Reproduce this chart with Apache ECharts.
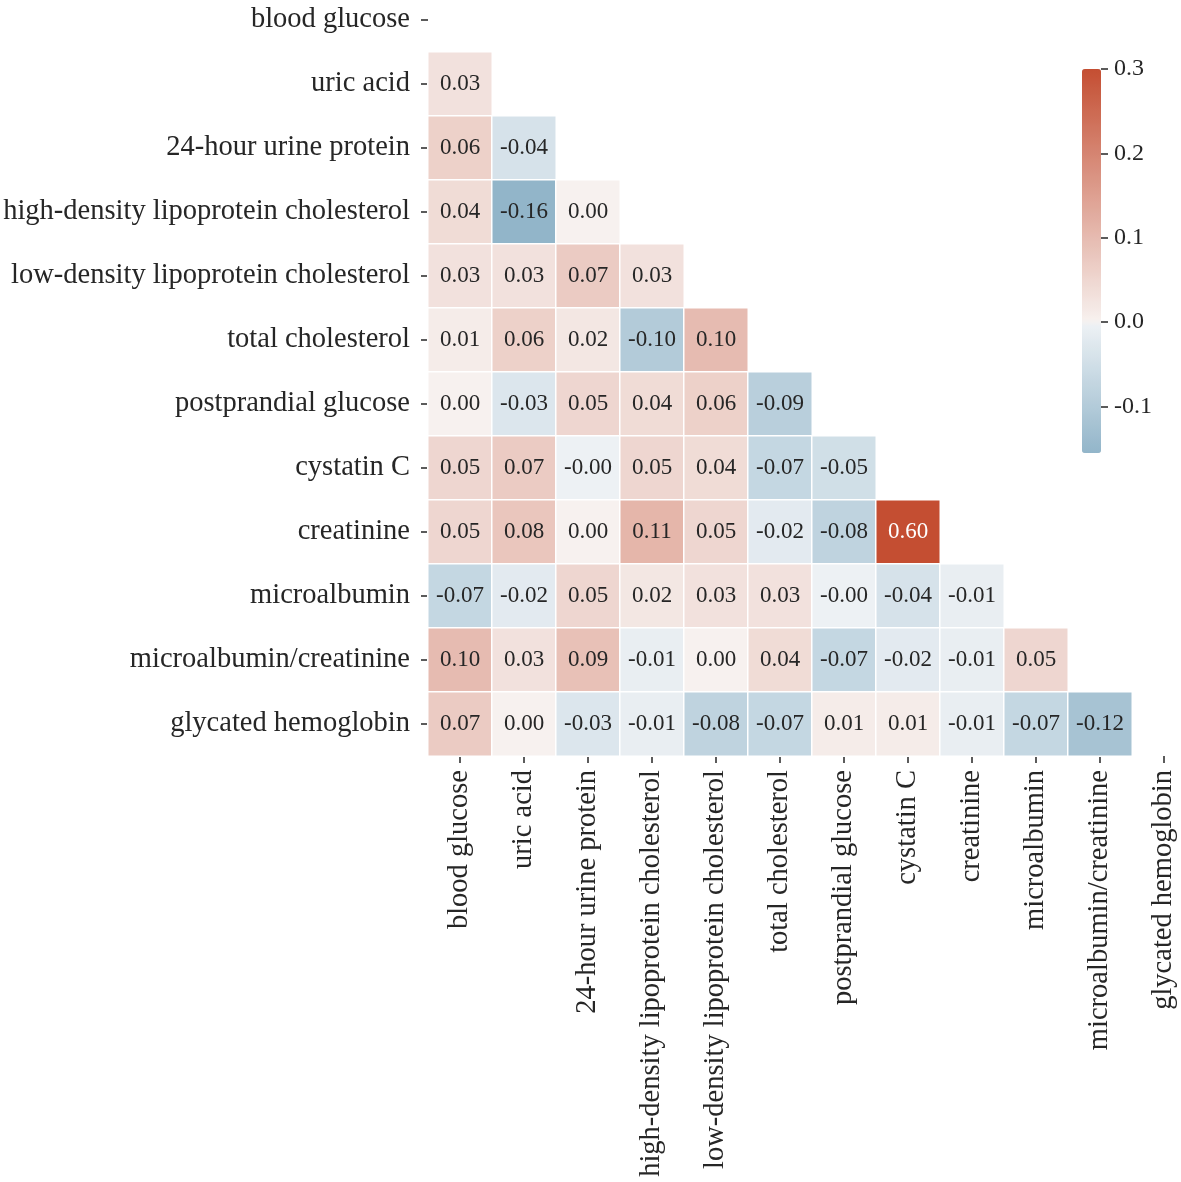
<!DOCTYPE html>
<html>
<head>
<meta charset="utf-8">
<script src="https://cdn.jsdelivr.net/npm/echarts@6/dist/echarts.min.js"></script>
<style>
  html, body { margin: 0; padding: 0; background: #fff; overflow: hidden; }
  /* plot is a bit bigger than the window: top row and last column are cut off like in the figure */
  #chart { position: absolute; left: 0; top: -12px; width: 1210px; height: 1194px; }
</style>
</head>
<body>
<div id="chart"></div>
<script>
const labels = [
    "blood glucose", "uric acid", "24-hour urine protein",
    "high-density lipoprotein cholesterol", "low-density lipoprotein cholesterol",
    "total cholesterol", "postprandial glucose", "cystatin C", "creatinine",
    "microalbumin", "microalbumin/creatinine", "glycated hemoglobin"
];

// lower triangle only, row i holds the correlations with columns 0..i-1
const corrRows = [
    [],
    [0.03],
    [0.06, -0.04],
    [0.04, -0.16, 0.002],
    [0.03, 0.03, 0.07, 0.03],
    [0.01, 0.06, 0.02, -0.10, 0.10],
    [0.002, -0.03, 0.05, 0.04, 0.06, -0.09],
    [0.05, 0.07, -0.004, 0.05, 0.04, -0.07, -0.05],
    [0.05, 0.08, 0.002, 0.11, 0.05, -0.02, -0.08, 0.60],
    [-0.07, -0.02, 0.05, 0.02, 0.03, 0.03, -0.004, -0.04, -0.01],
    [0.10, 0.03, 0.09, -0.01, 0.002, 0.04, -0.07, -0.02, -0.01, 0.05],
    [0.07, 0.002, -0.03, -0.01, -0.08, -0.07, 0.01, 0.01, -0.01, -0.07, -0.12]
];

const colorbarTicks = [-0.1, 0.0, 0.1, 0.2, 0.3];
const colorMin = -0.155;
const colorMax = 0.3;

// diverging palette (blue 230 -> light -> red 20), centred on 0, spans +-0.3
const paletteStops = [
    [-0.3, [59, 124, 160]],
    [-0.001, [238, 242, 245]],
    [0.0, [244, 243, 242]],
    [0.001, [247, 241, 239]],
    [0.3, [196, 78, 50]]
];

function cmap(v) {
    v = Math.max(-0.3, Math.min(0.3, v));
    for (let k = 0; k < paletteStops.length - 1; k++) {
        const [a, ca] = paletteStops[k];
        const [b, cb] = paletteStops[k + 1];
        if (v <= b) {
            const t = (v - a) / (b - a);
            return ca.map((c, n) => Math.round(c + (cb[n] - c) * t));
        }
    }
    return paletteStops[paletteStops.length - 1][1];
}

function toHex(rgb) {
    return '#' + rgb.map(c => c.toString(16).padStart(2, '0')).join('');
}

function luminance(rgb) {
    const lin = rgb.map(c => {
        c = c / 255;
        return c <= 0.03928 ? c / 12.92 : Math.pow((c + 0.055) / 1.055, 2.4);
    });
    return 0.2126 * lin[0] + 0.7152 * lin[1] + 0.0722 * lin[2];
}

// sample the palette evenly over the colorbar range for the visualMap
const rampColors = [];
for (let k = 0; k <= 90; k++) {
    rampColors.push(toHex(cmap(colorMin + (colorMax - colorMin) * k / 90)));
}

const cells = [];
corrRows.forEach((row, i) => {
    row.forEach((v, j) => {
        cells.push({
            value: [j, i, v],
            label: { color: luminance(cmap(v)) > 0.408 ? '#262626' : '#ffffff' }
        });
    });
});

const FONT = 'Liberation Serif';
const INK = '#262626';

const chart = echarts.init(document.getElementById('chart'));
chart.setOption({
    animation: false,
    textStyle: { fontFamily: FONT, color: INK },
    grid: [
        { left: 428, top: 0, width: 768, height: 768 },
        { left: 1082, top: 81, width: 19, height: 384 }
    ],
    xAxis: [
        {
            type: 'category', gridIndex: 0, data: labels,
            axisLine: { show: false },
            axisTick: { show: true, alignWithLabel: true, length: 7, lineStyle: { color: INK, width: 1.5 } },
            axisLabel: { interval: 0, rotate: 90, fontSize: 28.5, fontFamily: FONT, color: INK, margin: 14 },
            splitLine: { show: false }
        },
        { type: 'value', gridIndex: 1, show: false, min: 0, max: 1, axisLine: { onZero: false } }
    ],
    yAxis: [
        {
            type: 'category', gridIndex: 0, data: labels, inverse: true,
            axisLine: { show: false },
            axisTick: { show: true, alignWithLabel: true, length: 7, lineStyle: { color: INK, width: 1.5 } },
            axisLabel: { interval: 0, fontSize: 28.5, fontFamily: FONT, color: INK, margin: 18 },
            splitLine: { show: false }
        },
        {
            type: 'value', gridIndex: 1, position: 'right', z: 10,
            min: colorMin, max: colorMax,
            axisLine: { show: false, onZero: false },
            axisTick: { show: true, inside: false, customValues: colorbarTicks, length: 7, lineStyle: { color: INK, width: 1.5 } },
            axisLabel: {
                customValues: colorbarTicks, fontSize: 24, fontFamily: FONT, color: INK, margin: 13,
                formatter: v => v.toFixed(1)
            },
            splitLine: { show: false }
        }
    ],
    visualMap: {
        type: 'continuous', seriesIndex: 0,
        min: colorMin, max: colorMax,
        calculable: false, hoverLink: false,
        orient: 'vertical', left: 1082, top: 81,
        itemWidth: 19, itemHeight: 384, padding: 0,
        inRange: { color: rampColors }
    },
    series: [{
        type: 'heatmap',
        xAxisIndex: 0, yAxisIndex: 0,
        data: cells,
        label: {
            show: true, fontSize: 23, fontFamily: FONT,
            formatter: p => p.value[2].toFixed(2)
        },
        itemStyle: { borderColor: '#ffffff', borderWidth: 1.5 },
        emphasis: { disabled: true }
    }]
});
</script>
</body>
</html>
